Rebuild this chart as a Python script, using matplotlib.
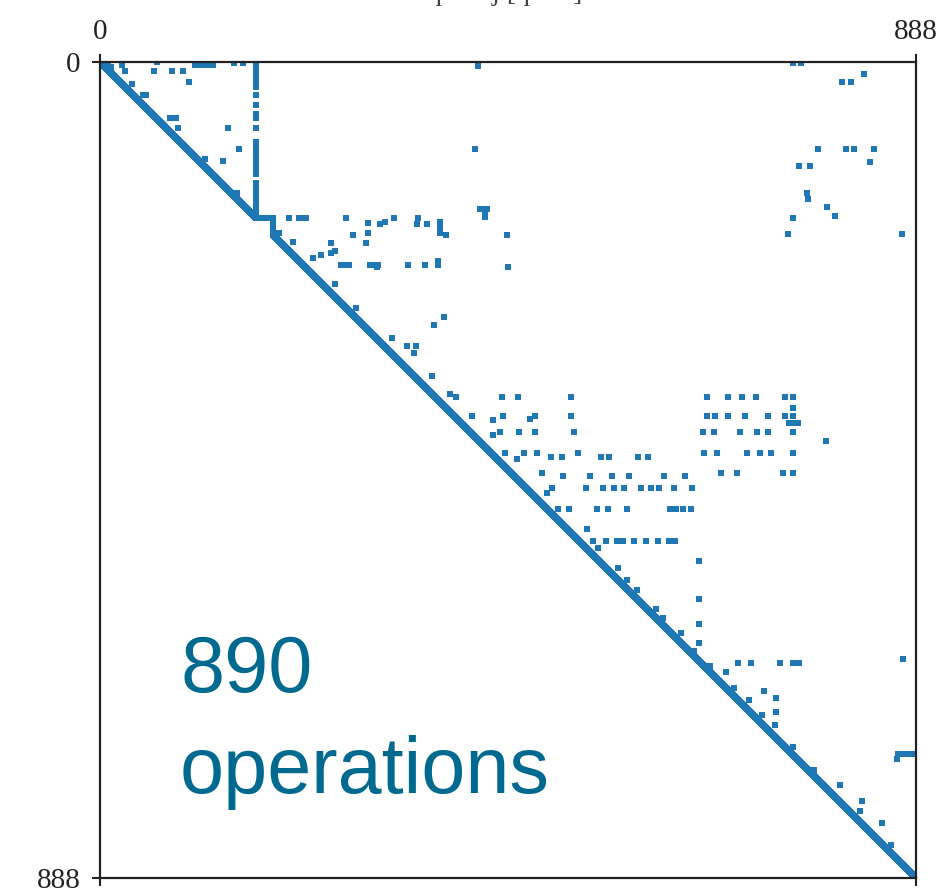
import numpy as np
import matplotlib
matplotlib.use('Agg')
import matplotlib.pyplot as plt

plt.rcParams['font.family'] = ['Liberation Serif', 'DejaVu Serif']

n = 889

# diagonal is broken between these rows; a staircase joins the two parts
diag_gap = (170, 187)
step_row, step_cols = 169, (169, 188)
step_col, step_rows = 188, (169, 188)

# long vertical run in column 169 (row ranges, inclusive)
vline_col = 169
vline_rows = [(1, 27), (35, 35), (46, 46), (56, 60), (71, 71),
              (87, 121), (131, 153), (158, 168)]

# horizontal run near the bottom right
hline_row = 753
hline_cols = (869, 888)

# column 652 and column 755 runs
col652_rows = [543, 585, 612, 632]
col755_rows = [365, 376, 385, 393, 403, 425, 447, 654]

# entries hugging the diagonal
near_diag = [(2, 8), (5, 11), (23, 34), (35, 46), (35, 50), (61, 76),
             (61, 82), (71, 85), (105, 114), (142, 149), (186, 195),
             (196, 210), (241, 256), (267, 278), (300, 318), (342, 361),
             (361, 381), (365, 387), (385, 405), (390, 428), (406, 428),
             (403, 435), (432, 454), (388, 468), (469, 487), (486, 499),
             (508, 530), (521, 537), (529, 542), (551, 564), (564, 574),
             (575, 585), (595, 605), (605, 613), (622, 632), (641, 647),
             (657, 664), (664, 682), (681, 690), (695, 707), (711, 721),
             (722, 735), (746, 755), (771, 777), (787, 806), (805, 830),
             (815, 828), (829, 852), (853, 861)]

# scattered off-diagonal entries (row, col)
top_left = [(3, 24), (9, 27), (9, 58), (0, 62), (9, 78), (9, 90),
            (21, 96), (3, 103), (0, 106), (3, 108), (3, 114), (3, 118),
            (3, 123), (1, 145), (1, 155), (71, 139), (94, 151),
            (107, 134)]

upper_mid = [(1, 411), (4, 411), (94, 408), (160, 413), (160, 417),
             (160, 421), (164, 419), (168, 419), (188, 443), (223, 444),
             (169, 205), (169, 216), (169, 220), (169, 224), (169, 267),
             (175, 292), (176, 305), (174, 310), (169, 320), (169, 346),
             (176, 345), (176, 356), (174, 370), (178, 370), (182, 370),
             (186, 370), (188, 376), (188, 275), (186, 291), (197, 289),
             (197, 251), (205, 256), (208, 251), (210, 240), (213, 232),
             (221, 262), (221, 266), (221, 271), (221, 294), (221, 298),
             (221, 302), (223, 301), (221, 335), (221, 354), (216, 368),
             (221, 368), (277, 374), (286, 363), (309, 334), (309, 344),
             (317, 342)]

top_right = [(1, 755), (1, 763), (21, 808), (21, 818), (13, 832),
             (94, 782), (94, 812), (94, 821), (94, 843), (108, 838),
             (113, 761), (113, 773), (142, 770), (149, 771), (158, 792),
             (167, 800), (169, 755), (187, 749), (187, 873)]

middle = [(365, 437), (365, 455), (365, 513), (365, 661), (365, 684),
          (365, 699), (365, 714), (365, 746),
          (385, 439), (385, 473), (385, 513), (385, 661), (385, 670),
          (385, 684), (385, 702), (385, 727), (385, 746),
          (393, 750), (393, 760),
          (403, 456), (403, 473), (403, 516), (403, 656), (403, 668),
          (403, 697), (403, 715), (403, 727),
          (425, 441), (425, 461), (425, 476), (425, 520), (425, 658),
          (425, 672), (425, 704), (425, 718), (425, 730),
          (430, 491), (430, 503), (430, 545), (430, 554), (430, 586),
          (430, 597),
          (447, 481), (447, 676), (447, 694), (447, 744),
          (451, 504), (451, 533), (451, 557), (451, 576), (451, 614),
          (451, 637),
          (464, 492), (464, 529), (464, 547), (464, 560), (464, 570),
          (464, 589), (464, 600), (464, 609), (464, 625), (464, 645),
          (486, 510), (486, 541), (486, 553), (486, 574), (486, 621),
          (486, 627), (486, 635), (486, 643),
          (521, 551), (521, 563), (521, 569), (521, 581), (521, 594),
          (521, 607), (521, 619), (521, 626), (412, 790)]

lower_right = [(654, 695), (654, 709), (654, 740), (654, 761),
               (650, 874), (685, 723), (692, 736), (708, 736),
               (759, 868)]

M = np.zeros((n, n), dtype=bool)
idx = np.arange(n)
keep = (idx < diag_gap[0]) | (idx > diag_gap[1])
M[idx[keep], idx[keep]] = True
M[step_row, step_cols[0]:step_cols[1] + 1] = True
M[step_rows[0]:step_rows[1] + 1, step_col] = True
for a, b in vline_rows:
    M[a:b + 1, vline_col] = True
M[hline_row, hline_cols[0]:hline_cols[1] + 1] = True
M[col652_rows, 652] = True
M[col755_rows, 755] = True
for group in (near_diag, top_left, upper_mid, top_right, middle, lower_right):
    r, c = zip(*group)
    M[list(r), list(c)] = True

fig = plt.figure(figsize=(9.38, 8.89), dpi=100)
ax = fig.add_axes([100 / 938, 11 / 889, 816 / 938, 816 / 889])
ax.spy(M, markersize=4.6, color='#1f77b4', markeredgewidth=0)

ax.set_xticks([0, n - 1])
ax.set_yticks([0, n - 1])
ax.tick_params(direction='out', length=6, width=1.5, labelsize=21,
               colors='#222222')
ax.tick_params(axis='x', pad=6.5)
ax.tick_params(axis='y', pad=8)
for s in ax.spines.values():
    s.set_linewidth(1.6)
    s.set_color('#222222')

fig.text(505 / 938, 1.0, 'qubit j [qubit]', ha='center', va='baseline',
         fontsize=20, color='#444444')

fig.text(180 / 938, 1 - 692 / 889, '890', fontsize=57, color='#00698f',
         family='Liberation Sans', va='baseline')
fig.text(180 / 938, 1 - 793 / 889, 'operations', fontsize=57,
         color='#00698f', family='Liberation Sans', va='baseline')

fig.savefig('out.png', dpi=100)
